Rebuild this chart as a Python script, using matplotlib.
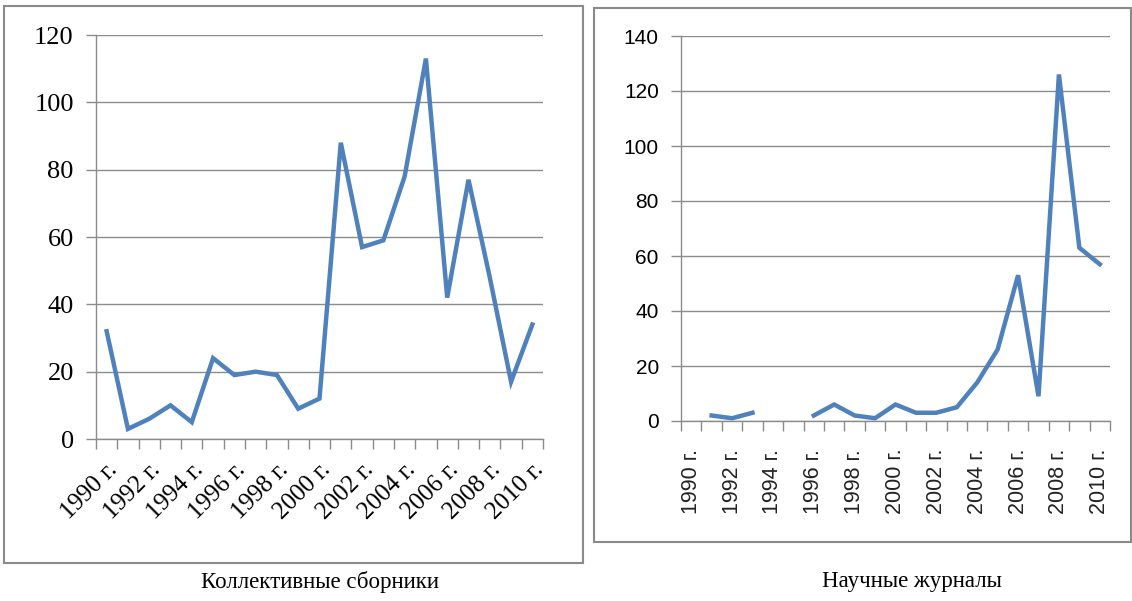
import numpy as np
import matplotlib
matplotlib.use("Agg")
import matplotlib.pyplot as plt
from matplotlib.patches import Rectangle

years = list(range(1990, 2011))
year_labels = [f"{y} г." for y in years]
collections = [32, 3, 6, 10, 5, 24, 19, 20, 19, 9, 12, 88, 57, 59, 78, 113, 42, 77, 48, 17, 34]
journals = [np.nan, 2, 1, 3, np.nan, np.nan, 2, 6, 2, 1, 6, 3, 3, 5, 14, 26, 53, 9, 126, 63, 57]
caption_left = "Коллективные сборники"
caption_right = "Научные журналы"

W, H = 1132, 601
fig = plt.figure(figsize=(W / 100, H / 100), dpi=100)

LINE = "#4F81BD"
GRID = "#8C8C8C"


def px_rect(x0, y0, x1, y1):
    return [x0 / W, 1 - y1 / H, (x1 - x0) / W, (y1 - y0) / H]


def setup(ax, ymax, serif, xfs, yfs, rot, pad):
    x = np.arange(len(years))
    ax.set_xlim(-0.5, len(years) - 0.5)
    ax.set_ylim(0, ymax)
    ax.set_yticks(np.arange(0, ymax + 1, 20))
    ax.yaxis.grid(True, color=GRID, linewidth=1.0)
    ax.set_axisbelow(True)
    for s in ["top", "right"]:
        ax.spines[s].set_visible(False)
    for s in ["left", "bottom"]:
        ax.spines[s].set_color(GRID)
        ax.spines[s].set_linewidth(1.0)
    ax.set_xticks(np.arange(-0.5, len(years), 1.0), minor=True)
    ax.set_xticks(x[::2])
    fam = ["Liberation Serif"] if serif else ["Liberation Sans"]
    if rot == 45:
        ax.set_xticklabels(year_labels[::2], rotation=45, ha="right",
                           rotation_mode="anchor", fontsize=xfs, family=fam)
    else:
        ax.set_xticklabels(year_labels[::2], rotation=90, ha="center",
                           fontsize=xfs, family=fam, color="#222222")
    ax.tick_params(axis="x", which="major", length=0, pad=pad)
    ax.tick_params(axis="x", which="minor", length=7, color=GRID, width=1.0)
    ax.tick_params(axis="y", length=7, color=GRID, width=1.0, pad=9)
    for t in ax.get_yticklabels():
        t.set_fontsize(yfs)
        t.set_family(fam)
    return x


# left panel
ax1 = fig.add_axes([96 / W, 1 - 439 / H, (543 - 96) / W, (439 - 35) / H])
x = setup(ax1, 120, True, 18, 19, 45, 14)
ax1.plot(x, collections, color=LINE, linewidth=3.2, solid_joinstyle="miter")

# right panel
ax2 = fig.add_axes([681 / W, 1 - 421 / H, (1110 - 681) / W, (421 - 36) / H])
x = setup(ax2, 140, False, 15.5, 15, 90, 20)
ax2.plot(x, journals, color=LINE, linewidth=3.2, solid_joinstyle="miter")

# panel borders
r = px_rect(4, 6, 583, 563)
fig.patches.append(Rectangle(r[:2], r[2], r[3], transform=fig.transFigure,
                             fill=False, edgecolor="#8A8A8A", linewidth=1.5))
r = px_rect(594, 8, 1131, 542)
fig.patches.append(Rectangle(r[:2], r[2], r[3], transform=fig.transFigure,
                             fill=False, edgecolor="#8A8A8A", linewidth=1.5))

fig.text(320 / W, 1 - 582 / H, caption_left, ha="center", va="center",
         fontsize=16.5, family="Liberation Serif")
fig.text(912 / W, 1 - 582 / H, caption_right, ha="center", va="center",
         fontsize=16.5, family="Liberation Serif")

fig.savefig("out.png", dpi=100)
